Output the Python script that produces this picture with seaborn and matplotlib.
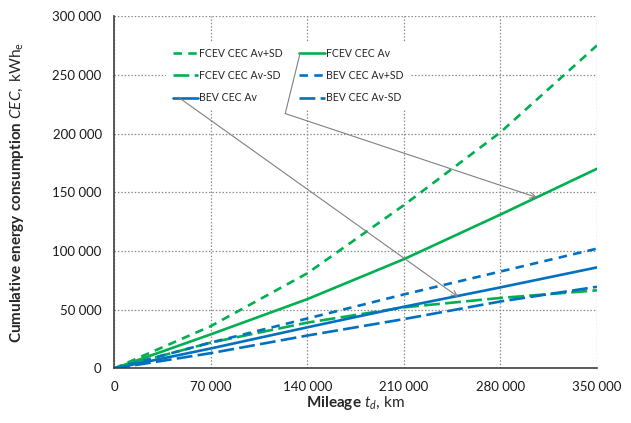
import matplotlib
matplotlib.use('Agg')

import matplotlib.pyplot as plt
import matplotlib.ticker as mticker
import seaborn as sns
import pandas as pd

# data
mileage = [0, 70000, 140000, 210000, 280000, 350000]
fcev_av = [0, 29000, 59000, 93000, 131000, 170000]
fcev_av_plus_sd = [0, 36000, 81000, 139000, 201000, 275000]
fcev_av_minus_sd = [0, 22000, 39000, 52000, 60000, 66500]
bev_av = [0, 17000, 35000, 52500, 69000, 86000]
bev_av_plus_sd = [0, 22000, 42500, 63000, 82500, 102000]
bev_av_minus_sd = [0, 13000, 28000, 42000, 57000, 69500]

GREEN = "#00b050"
BLUE = "#0070c0"
SHORT = (3.2, 2.4)
LONG = (6.0, 2.0)

sns.set_style("white")
plt.rcParams['font.family'] = ['Lato', 'DejaVu Sans']
plt.rcParams['mathtext.fontset'] = 'custom'
plt.rcParams['mathtext.rm'] = 'Lato'
plt.rcParams['mathtext.it'] = 'Lato:italic'
plt.rcParams['mathtext.bf'] = 'Lato:bold'

fig = plt.figure(figsize=(6.31, 4.23), dpi=100)
ax = fig.add_axes([0.181, 0.129, 0.765, 0.833])

# plotting order gives the legend order (2 columns, filled column-wise)
series = [
    ("FCEV CEC Av+SD", fcev_av_plus_sd, GREEN, SHORT),
    ("FCEV CEC Av-SD", fcev_av_minus_sd, GREEN, LONG),
    ("BEV CEC Av", bev_av, BLUE, None),
    ("FCEV CEC Av", fcev_av, GREEN, None),
    ("BEV CEC Av+SD", bev_av_plus_sd, BLUE, SHORT),
    ("BEV CEC Av-SD", bev_av_minus_sd, BLUE, LONG),
]

for name, vals, color, dash in series:
    df = pd.DataFrame({"km": mileage, "cec": vals})
    sns.lineplot(data=df, x="km", y="cec", ax=ax, color=color,
                 linewidth=1.9, label=name)
    if dash is not None:
        ax.lines[-1].set_dashes(dash)

ax.set_xlim(0, 350000)
ax.set_ylim(0, 300000)
ax.xaxis.set_major_locator(mticker.MultipleLocator(70000))
ax.yaxis.set_major_locator(mticker.MultipleLocator(50000))
fmt = mticker.FuncFormatter(lambda v, p: f"{v:,.0f}".replace(",", " "))
ax.xaxis.set_major_formatter(fmt)
ax.yaxis.set_major_formatter(fmt)

ax.grid(True, linestyle=(0, (1.2, 1.5)), color="#8c8c8c", linewidth=0.9)
for s in ["top", "right"]:
    ax.spines[s].set_visible(False)
for s in ["left", "bottom"]:
    ax.spines[s].set_color("#404040")
    ax.spines[s].set_linewidth(1.2)
ax.tick_params(axis="both", direction="out", length=4, width=1, color="#404040",
               labelsize=9.5, labelcolor="#1a1a1a", pad=5)

ax.set_xlabel(r"$\mathbf{Mileage}\ \mathit{t_d}\mathrm{,\,km}$", fontsize=11, labelpad=1)
ax.set_ylabel(r"$\mathbf{Cumulative\ energy\ consumption}\ \mathit{CEC}\mathrm{,\ kWh_e}$",
              fontsize=11, labelpad=19)

leg = ax.legend(ncol=2, loc="center", bbox_to_anchor=(0.36, 0.831),
                frameon=True, fontsize=7.6, handlelength=2.4, handletextpad=0.1,
                columnspacing=1.6, labelspacing=1.05, borderpad=0.6)
leg.get_frame().set_edgecolor("none")
leg.get_frame().set_facecolor("white")
leg.get_frame().set_alpha(1)

# connector lines from legend samples to the curves
arrow = dict(arrowstyle="->", color="#808080", lw=0.8, shrinkA=0, shrinkB=0)
ax.annotate("", xy=(249300, 61000), xytext=(46400, 231000), arrowprops=arrow,
            zorder=10)
ax.annotate("", xy=(306500, 145500), xytext=(124000, 217000), arrowprops=arrow,
            zorder=10)
ax.plot([124000, 134800], [217000, 268500], color="#808080", lw=0.8, zorder=10)

plt.savefig("out.png", dpi=100)
plt.close()
